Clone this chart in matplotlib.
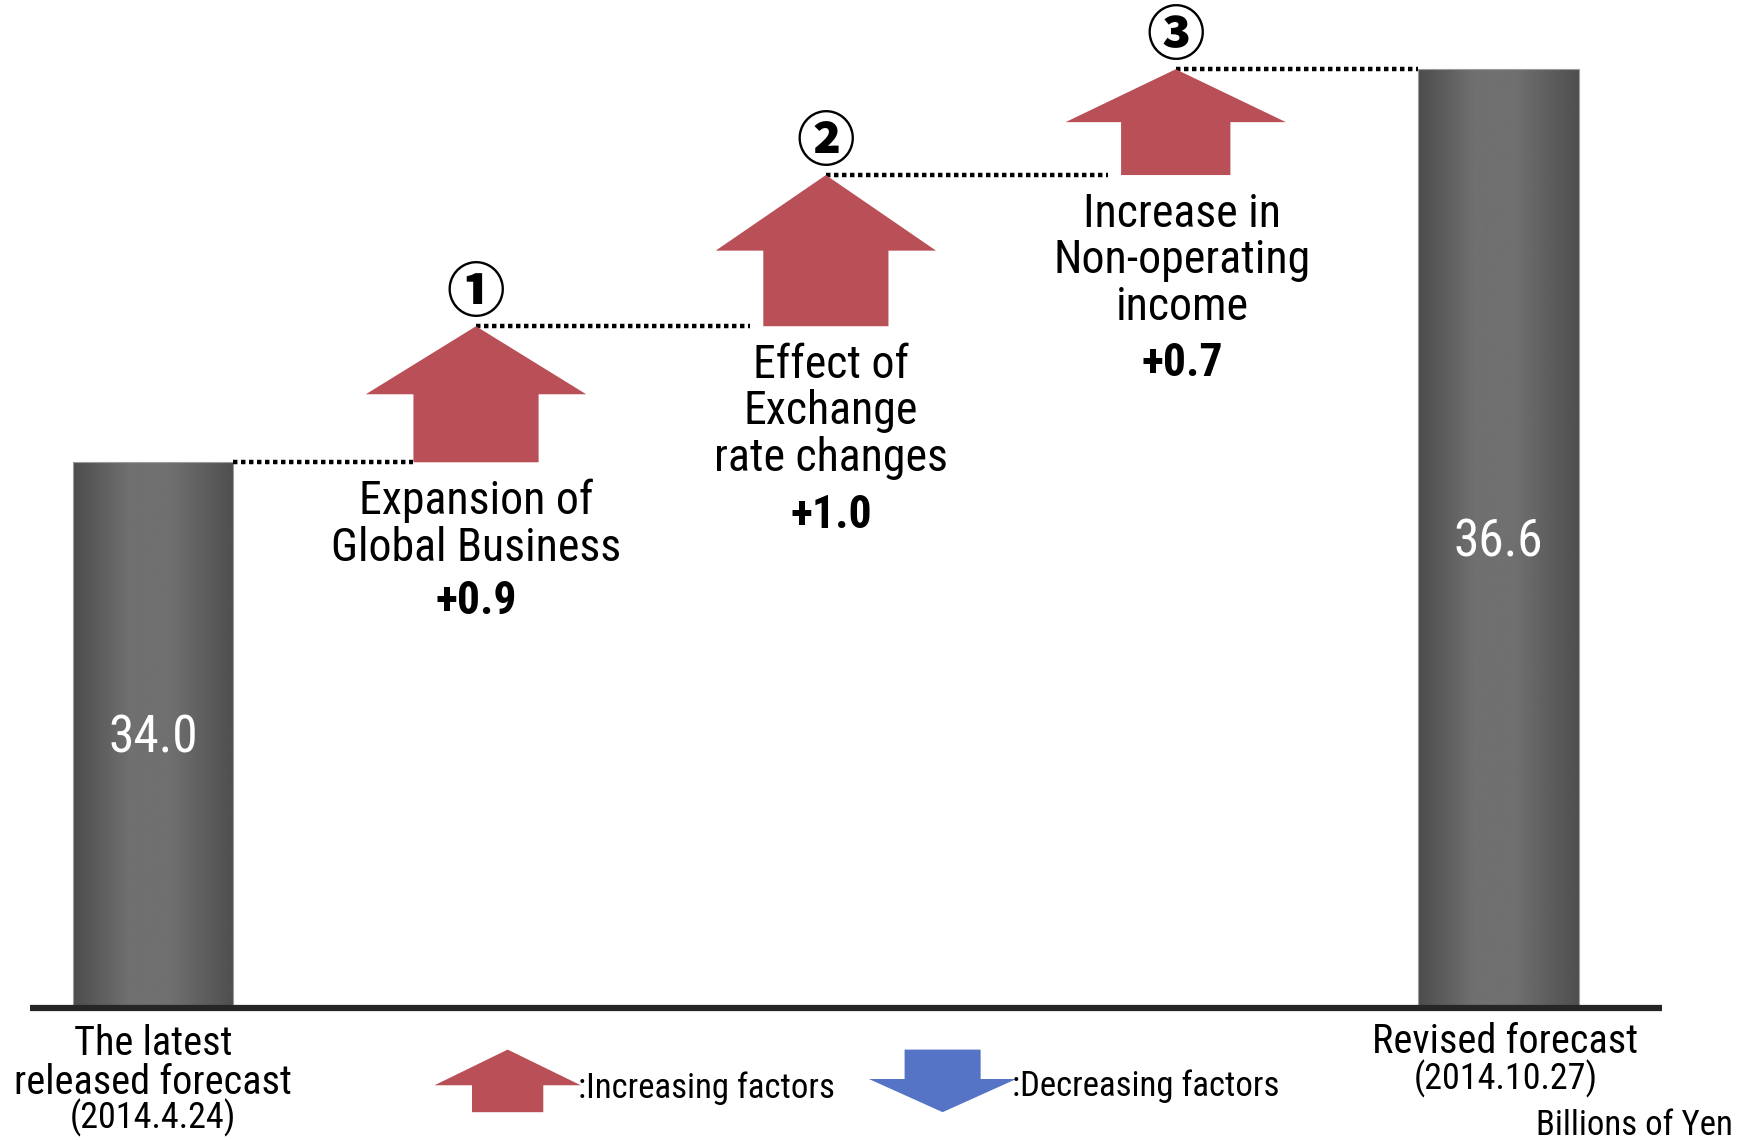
import matplotlib
matplotlib.use("Agg")
import matplotlib.pyplot as plt
import numpy as np
from matplotlib.patches import Polygon

# valores em bilhoes de ienes
inicio = 34.0
fatores = [0.9, 1.0, 0.7]
final = 36.6
nomes_fatores = ["Expansion of\nGlobal Business", "Effect of\nExchange\nrate changes",
                 "Increase in\nNon-operating\nincome"]
rotulos_fatores = ["+0.9", "+1.0", "+0.7"]
numeros = ["\u2460", "\u2461", "\u2462"]
rotulo_inicio = "The latest\nreleased forecast"
data_inicio = "(2014.4.24)"
rotulo_final = "Revised forecast"
data_final = "(2014.10.27)"
legenda_sobe = ":Increasing factors"
legenda_desce = ":Decreasing factors"
unidade = "Billions of Yen"

VERMELHO = "#b94f57"
AZUL = "#5574c5"
FONTE = ["Roboto Condensed", "Noto Sans CJK JP", "DejaVu Sans"]

# layout (posicoes das colunas e escala cortada)
xpos = [0, 0.96, 2.0, 3.04, 4.0]
base = 30.39
larg_barra = 0.478

fig = plt.figure(figsize=(17.51, 11.40), dpi=100)
ax = fig.add_axes([0, 0, 1, 1])
XLIM = (-0.455, 4.75)
YLIM = (29.517, 37.058)


def barra(x, valor):
    b = ax.bar(x, valor - base, bottom=base, width=larg_barra, color="none",
               edgecolor="#9c9c9c", lw=0.8, zorder=2)[0]
    t = np.linspace(0, 1, 256)
    g = np.interp(t, [0, 0.35, 0.6, 1], [0.30, 0.44, 0.44, 0.31])
    im = ax.imshow(g[None, :], cmap="gray", vmin=0, vmax=1, aspect="auto",
                   extent=[x - larg_barra / 2, x + larg_barra / 2, base, valor], zorder=1)
    im.set_clip_path(b)
    ax.text(x, (base + valor) / 2 - 0.025, f"{valor:.1f}", color="white", ha="center", va="center",
            fontsize=37, family=FONTE, zorder=4)


def seta(x, y0, y1, cabeca, corpo, cor, frac=0.5):
    yc = y1 - (y1 - y0) * frac
    pts = [(x - corpo / 2, y0), (x - corpo / 2, yc), (x - cabeca / 2, yc), (x, y1),
           (x + cabeca / 2, yc), (x + corpo / 2, yc), (x + corpo / 2, y0)]
    ax.add_patch(Polygon(pts, closed=True, fc=cor, ec="none", zorder=3))


def pontilhado(x0, x1, y):
    ax.plot([x0, x1], [y, y], color="black", lw=3.2, ls=(0, (1.0, 0.8)), zorder=2)


barra(xpos[0], inicio)
barra(xpos[4], final)

niveis = inicio + np.concatenate([[0], np.cumsum(fatores)])
corpos = [0.372, 0.372, 0.325]
desloc = [0, 0.015, 0.02]
x_ant = xpos[0] + larg_barra / 2
for i, f in enumerate(fatores):
    x = xpos[i + 1]
    y0, y1 = niveis[i], niveis[i + 1]
    seta(x, y0, y1, 0.655, corpos[i], VERMELHO)
    pontilhado(x_ant, x - corpos[i] / 2 - (0 if i == 0 else 0.04), y0)
    x_ant = x
    ax.text(x, y1 + 0.02, numeros[i], ha="center", va="bottom", fontsize=42,
            fontweight="heavy", family=["Noto Sans CJK JP", "DejaVu Sans"], zorder=4)
    n = nomes_fatores[i].count("\n") + 1
    ax.text(x + desloc[i], y0 - 0.11, nomes_fatores[i], ha="center", va="top", fontsize=33,
            family=FONTE, linespacing=1.07, zorder=4)
    ax.text(x + desloc[i], y0 - 0.11 - n * 0.33, rotulos_fatores[i], ha="center", va="top",
            fontsize=33, fontweight="bold", family=FONTE, zorder=4)
pontilhado(x_ant, xpos[4] - larg_barra / 2, niveis[-1])

# linha de base
ax.plot([-0.365, 4.485], [base, base], color="#262626", lw=4.5, solid_capstyle="butt", zorder=3)

# textos abaixo do eixo (coordenadas relativas da figura)
W, H = 1568, 1021
def fx(px):
    return px / W
def fy(py):
    return 1 - py / H

ax.text(fx(137), fy(952), rotulo_inicio, transform=ax.transAxes, ha="center", va="center",
        fontsize=29, family=FONTE, linespacing=0.98)
ax.text(fx(137), fy(1001), data_inicio, transform=ax.transAxes, ha="center", va="center",
        fontsize=26, family=FONTE)
ax.text(fx(1348), fy(933), rotulo_final, transform=ax.transAxes, ha="center", va="center",
        fontsize=29, family=FONTE)
ax.text(fx(1348), fy(966), data_final, transform=ax.transAxes, ha="center", va="center",
        fontsize=26, family=FONTE)
ax.text(fx(1552), fy(1008), unidade, transform=ax.transAxes, ha="right", va="center",
        fontsize=25, family=FONTE)

# legenda
seta(1.054, 29.701, 30.115, 0.435, 0.212, VERMELHO, frac=0.57)
seta(2.347, 30.115, 29.701, 0.438, 0.226, AZUL, frac=0.53)
ax.text(fx(518), fy(975), legenda_sobe, transform=ax.transAxes, ha="left", va="center",
        fontsize=25, family=FONTE)
ax.text(fx(906), fy(973), legenda_desce, transform=ax.transAxes, ha="left", va="center",
        fontsize=25, family=FONTE)

ax.set_xlim(*XLIM)
ax.set_ylim(*YLIM)
ax.axis("off")

fig.savefig("out.png", dpi=100, facecolor="white")
